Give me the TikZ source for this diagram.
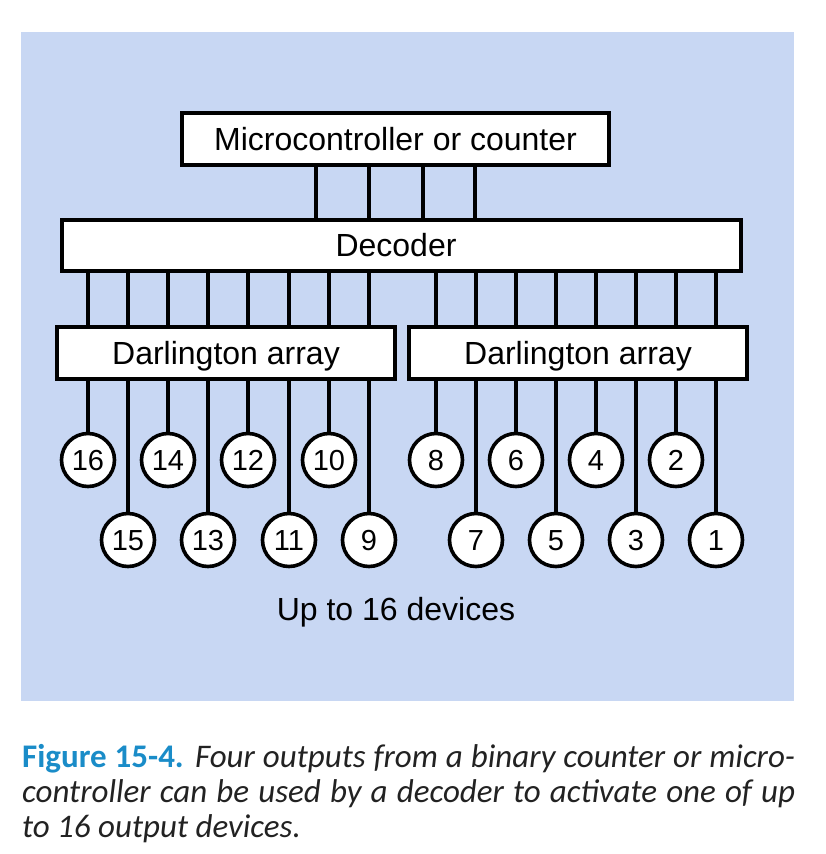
\documentclass[tikz,border=0pt]{standalone}
\usepackage{fontspec}
\setmainfont{Liberation Sans}
\newfontfamily\capfont{Carlito}
\definecolor{bgblue}{HTML}{C8D7F3}
\definecolor{figblue}{HTML}{1A8CC8}
\definecolor{captext}{HTML}{222222}
\begin{document}
\begin{tikzpicture}[x=1pt,y=-1pt,
  box/.style={draw=black,line width=4pt,fill=white,inner sep=0pt,text height=22.5pt,text depth=0pt,font=\fontsize{32}{36}\selectfont},
  dev/.style={circle,draw=black,line width=3.6pt,fill=white,minimum size=53pt,inner sep=0pt,text height=21pt,text depth=0pt,font=\fontsize{29}{32}\selectfont},
  wire/.style={line width=4pt},
  captionstyle/.style={anchor=base west,inner sep=0pt,text=captext,font=\capfont\fontsize{33}{35}\selectfont}]
\useasboundingbox (0,0) rectangle (825,854);
\fill[bgblue] (21,32) rectangle (794,701);

\node[box,minimum width=427pt,minimum height=52pt] (mc) at (395.5,139) {Microcontroller or counter};
\node[box,minimum width=679pt,minimum height=51pt] (dec) at (401.5,245.5) {\hspace*{-11pt}Decoder};
\node[box,minimum width=338pt,minimum height=52pt] (dl) at (226,353) {Darlington array};
\node[box,minimum width=338pt,minimum height=52pt] (dr) at (578,353) {Darlington array};

\foreach \x [count=\i] in {316,369,423,475} {
  \coordinate (in\i) at (\x,190);
  \draw[wire] (mc.south -| in\i) -- (dec.north -| in\i);
}

\foreach \n/\x/\y/\d in {16/88/460/dl,15/128/540/dl,14/168/460/dl,13/208/540/dl,12/248/460/dl,11/289/540/dl,10/329/460/dl,9/369/540/dl,
  8/436/460/dr,7/476/540/dr,6/516/460/dr,5/556/540/dr,4/596/460/dr,3/636/540/dr,2/676/460/dr,1/716/540/dr} {
  \node[dev] (o\n) at (\x,\y) {\n};
  \draw[wire] (dec.south -| o\n) -- (\d.north -| o\n);
  \draw[wire] (\d.south -| o\n) -- (o\n.north);
}

\node[anchor=base,inner sep=0pt,font=\fontsize{32}{36}\selectfont] (lbl) at (396,620) {Up to 16 devices};

\node[captionstyle] (cap1) at (22,767) {\makebox[773pt][s]{\textcolor{figblue}{\bfseries Figure 15-4.} \itshape Four outputs from a binary counter or micro-}};
\node[captionstyle] (cap2) at (22,802) {\makebox[773pt][s]{\itshape controller can be used by a decoder to activate one of up}};
\node[captionstyle] (cap3) at (22,837) {\itshape to 16 output devices.};
\end{tikzpicture}
\end{document}
